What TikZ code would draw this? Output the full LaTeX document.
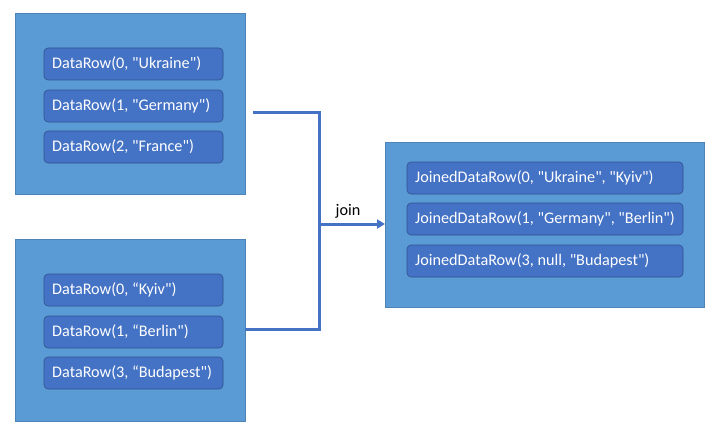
\documentclass[tikz,border=0pt]{standalone}
\usepackage{fontspec}
\setmainfont{Carlito}[Ligatures=TeXOff]
\usetikzlibrary{arrows.meta,calc}
\definecolor{outerblue}{HTML}{5B9BD5}
\definecolor{innerblue}{HTML}{4472C4}
\definecolor{innerline}{HTML}{2F528F}
\definecolor{linkblue}{HTML}{4472C4}
\begin{document}
\begin{tikzpicture}[x=1pt,y=-1pt,
  outerbox/.style={fill=outerblue,draw=outerblue!85!black,line width=0.5pt},
  rowbox/.style={fill=innerblue,draw=innerline,line width=0.6pt,rounded corners=4pt},
  rowtext/.style={text=white,font=\fontsize{16.2}{19}\selectfont,anchor=west,inner sep=0pt},
  link/.style={draw=linkblue,line width=3pt},
  lbl/.style={font=\fontsize{16.2}{19}\selectfont,text=black,inner sep=0pt}]
\useasboundingbox (0,0) rectangle (723,436);
% outer boxes
\path[outerbox] (15,13) rectangle (245,194);
\path[outerbox] (15,239) rectangle (245,421);
\path[outerbox] (385,142) rectangle (704,307);
% rows left top
\path[rowbox] (44,48) rectangle (223,80);
\path[rowbox] (44,90) rectangle (223,122);
\path[rowbox] (44,131) rectangle (223,163);
\node[rowtext] (a1) at (52,64) {DataRow(0, "Ukraine")};
\node[rowtext] (a2) at (52,106) {DataRow(1, "Germany")};
\node[rowtext] (a3) at (52,147) {DataRow(2, "France")};
% rows left bottom
\path[rowbox] (44,274) rectangle (223,306);
\path[rowbox] (44,316) rectangle (223,348);
\path[rowbox] (44,357) rectangle (223,389);
\node[rowtext] (b1) at (52,290) {DataRow(0, “Kyiv")};
\node[rowtext] (b2) at (52,332) {DataRow(1, “Berlin")};
\node[rowtext] (b3) at (52,373) {DataRow(3, “Budapest")};
% rows right
\path[rowbox] (407,162) rectangle (683,194);
\path[rowbox] (407,203) rectangle (683,235);
\path[rowbox] (407,245) rectangle (683,277);
\node[rowtext] (c1) at (415,178) {JoinedDataRow(0, "Ukraine", "Kyiv")};
\node[rowtext] (c2) at (415,219) {JoinedDataRow(1, "Germany", "Berlin")};
\node[rowtext] (c3) at (415,261) {JoinedDataRow(3, null, "Budapest")};
% connectors
\coordinate (s1) at (253,112);
\coordinate (s2) at (245,329);
\coordinate (j) at (319,224);
\coordinate (e) at (385,224);
\draw[link] (s1) -| (j);
\draw[link] (s2) -| (j);
\draw[link,-{Triangle[length=8pt,width=9pt]}] (j) -- (e);
\node[lbl] (jl) at (348,211) {join};
\end{tikzpicture}
\end{document}
